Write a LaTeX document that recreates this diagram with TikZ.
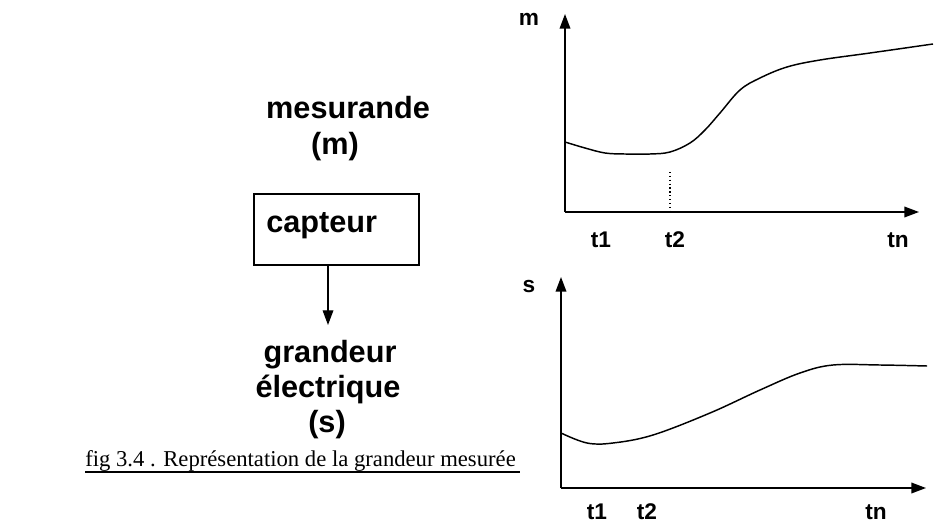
\documentclass[tikz,border=0pt]{standalone}
\usepackage{fontspec}
\setmainfont{Liberation Serif}
\setsansfont{Liberation Sans}
\usetikzlibrary{arrows.meta}
\begin{document}
\begin{tikzpicture}[x=0.75pt,y=-0.75pt,
  lbl/.style={font=\sffamily\bfseries\fontsize{23}{27}\selectfont,inner sep=0pt,align=center},
  tick/.style={font=\sffamily\bfseries\fontsize{17}{20}\selectfont,inner sep=0pt},
  axis/.style={line width=1.1pt,-{Triangle[length=11pt,width=8pt]}},
  curve/.style={line width=1.1pt},
  box/.style={draw,line width=1pt,minimum width=123.75pt,minimum height=53.25pt,inner sep=0pt}]
\useasboundingbox (0,0) rectangle (934,524);
% left block
\node[lbl] (mes) at (348,108) {mesurande};
\node[lbl] (m) at (335,147) {(m)};
\node[box] (capt) at (336.5,229.5) {};
\node[lbl,anchor=west] (ct) at (266,226) {capteur};
\node[lbl] (gr) at (330,355) {grandeur};
\node[lbl] (el) at (328,389) {électrique};
\node[lbl] (s) at (327,425) {(s)};
\coordinate (ar1) at (328,265.5);
\coordinate (ar2) at (328,325);
\draw[line width=0.9pt,-{Triangle[length=11pt,width=8pt]}] (ar1) -- (ar2);
% caption
\node[font=\fontsize{17}{20}\selectfont,inner sep=0pt,anchor=west] (cap) at (85,461) {fig 3.4 . Représentation de la grandeur mesurée};
\coordinate (u1) at (85,472);
\coordinate (u2) at (520,472);
\draw[line width=0.9pt] (u1) -- (u2);
% top graph
\coordinate (o1) at (565,212);
\coordinate (y1) at (565,14);
\coordinate (x1) at (919,212);
\draw[axis] (o1) -- (y1);
\draw[axis] (o1) -- (x1);
\node[tick] (mlab) at (529,19) {m};
\draw[curve] plot[smooth,tension=0.6] coordinates {(565,142) (585,148) (605,153) (625,154) (650,154) (670,152) (690,143) (705,130) (720,113) (740,90) (760,78) (787,67) (820,60) (870,53) (933,44)};
\coordinate (d1) at (670,172);
\coordinate (d2) at (670,212);
\draw[line width=0.9pt,dotted] (d1) -- (d2);
\node[tick] (t11) at (601,240) {t1};
\node[tick] (t12) at (675,240) {t2};
\node[tick] (t1n) at (898,240) {tn};
% bottom graph
\coordinate (o2) at (561,488);
\coordinate (y2) at (561,277);
\coordinate (x2) at (926,488);
\draw[axis] (o2) -- (y2);
\draw[axis] (o2) -- (x2);
\node[tick] (slab) at (529,287) {s};
\draw[curve] plot[smooth,tension=0.6] coordinates {(561,433) (587,443) (613,443) (653,435) (710,413) (760,390) (800,373) (833,365) (880,365) (927,366)};
\node[tick] (t21) at (597,512) {t1};
\node[tick] (t22) at (647,512) {t2};
\node[tick] (t2n) at (876,512) {tn};
\end{tikzpicture}
\end{document}
